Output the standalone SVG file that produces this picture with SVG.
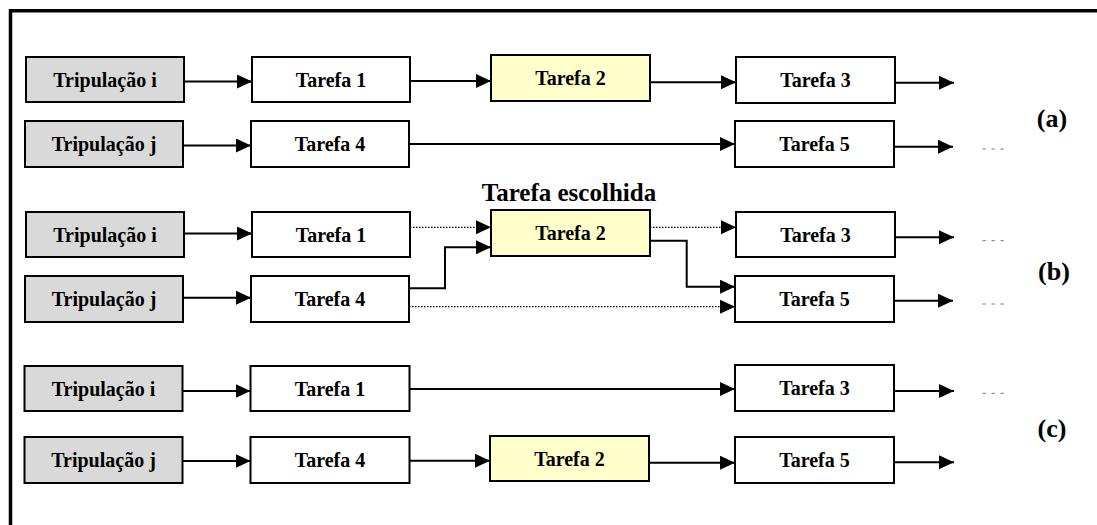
<svg xmlns="http://www.w3.org/2000/svg" width="1097" height="525" viewBox="0 0 1097 525">
  <style>
    .box { stroke: #000; stroke-width: 2; }
    .crew { fill: #d9d9d9; }
    .task { fill: #ffffff; }
    .chosen { fill: #ffffcc; }
    .lbl { font-family: "Liberation Serif", "Times New Roman", serif; font-weight: bold; font-size: 20px; text-anchor: middle; fill: #000; }
    .tag { font-family: "Liberation Serif", "Times New Roman", serif; font-weight: bold; font-size: 26px; text-anchor: middle; fill: #000; }
    .title { font-family: "Liberation Serif", "Times New Roman", serif; font-weight: bold; font-size: 25px; text-anchor: middle; fill: #000; }
    .solid { fill: none; stroke: #000; stroke-width: 2; marker-end: url(#arrow); }
    .dotted { fill: none; stroke: #000; stroke-width: 1.2; stroke-dasharray: 1.5 1.5; marker-end: url(#arrow); }
    .more { stroke: #777; stroke-width: 1; stroke-dasharray: 3.3 5.7; }
    .frame { stroke: #000; stroke-width: 3.5; fill: none; }
  </style>
  <defs>
    <marker id="arrow" markerUnits="userSpaceOnUse" markerWidth="16" markerHeight="16" refX="15" refY="7" orient="auto">
      <path d="M0,0 L15,7 L0,14 Z" fill="#000"/>
    </marker>
  </defs>

  <rect width="1097" height="525" fill="#fff"/>
  <!-- frame: top and left edges only -->
  <path class="frame" d="M10.5,525 V10.8 H1097"/>

  <!-- connectors -->
  <g id="connectors">
    <!-- (a) -->
    <line class="solid" x1="184" y1="81.5" x2="252" y2="81.5"/>
    <line class="solid" x1="410" y1="81" x2="491" y2="81"/>
    <line class="solid" x1="650" y1="82.3" x2="736" y2="82.3"/>
    <line class="solid" x1="895" y1="82.7" x2="954" y2="82.7"/>
    <line class="solid" x1="183" y1="145.5" x2="251" y2="145.5"/>
    <line class="solid" x1="409" y1="144" x2="735" y2="144"/>
    <line class="solid" x1="894" y1="146.7" x2="953" y2="146.7"/>
    <line class="more" x1="982.5" y1="149" x2="1008" y2="149"/>

    <!-- (b) -->
    <line class="solid" x1="184" y1="233.5" x2="252" y2="233.5"/>
    <line class="solid" x1="183" y1="297.7" x2="251" y2="297.7"/>
    <line class="dotted" x1="410" y1="227.3" x2="491" y2="227.3"/>
    <polyline class="solid" points="409,288.3 445,288.3 445,247.3 491,247.3"/>
    <line class="dotted" x1="409" y1="306.7" x2="735" y2="306.7"/>
    <line class="dotted" x1="650" y1="227.3" x2="736" y2="227.3"/>
    <polyline class="solid" points="650,240.7 686.7,240.7 686.7,286.7 735,286.7"/>
    <line class="solid" x1="895" y1="237.3" x2="954" y2="237.3"/>
    <line class="solid" x1="894" y1="300.7" x2="953" y2="300.7"/>
    <line class="more" x1="982.5" y1="240.7" x2="1008" y2="240.7"/>
    <line class="more" x1="982.5" y1="304" x2="1008" y2="304"/>

    <!-- (c) -->
    <line class="solid" x1="182.5" y1="391" x2="250.5" y2="391"/>
    <line class="solid" x1="409.5" y1="389" x2="735" y2="389"/>
    <line class="solid" x1="894" y1="391" x2="954" y2="391"/>
    <line class="more" x1="982.5" y1="393.3" x2="1008" y2="393.3"/>
    <line class="solid" x1="182.5" y1="461" x2="250.5" y2="461"/>
    <line class="solid" x1="409.5" y1="460.7" x2="490" y2="460.7"/>
    <line class="solid" x1="649" y1="462.7" x2="735" y2="462.7"/>
    <line class="solid" x1="894" y1="462.3" x2="954" y2="462.3"/>
  </g>

  <!-- scenario (a) -->
  <g id="a-crew-i"><rect class="box crew" x="26" y="57" width="158" height="45"/><text class="lbl" x="105" y="87">Tripulação i</text></g>
  <g id="a-crew-j"><rect class="box crew" x="25" y="121" width="158" height="46"/><text class="lbl" x="104" y="151">Tripulação j</text></g>
  <g id="a-task1"><rect class="box task" x="252" y="57" width="158" height="45"/><text class="lbl" x="331" y="87">Tarefa 1</text></g>
  <g id="a-task4"><rect class="box task" x="251" y="121" width="158" height="46"/><text class="lbl" x="330" y="151">Tarefa 4</text></g>
  <g id="a-task2"><rect class="box chosen" x="491" y="55" width="159" height="46"/><text class="lbl" x="570.5" y="85">Tarefa 2</text></g>
  <g id="a-task3"><rect class="box task" x="736" y="57" width="159" height="46"/><text class="lbl" x="815.5" y="87">Tarefa 3</text></g>
  <g id="a-task5"><rect class="box task" x="735" y="121" width="159" height="46"/><text class="lbl" x="814.5" y="151">Tarefa 5</text></g>
  <text class="tag" x="1052" y="127">(a)</text>

  <!-- scenario (b) -->
  <text class="title" x="569" y="201">Tarefa escolhida</text>
  <g id="b-crew-i"><rect class="box crew" x="26" y="212" width="158" height="45"/><text class="lbl" x="105" y="242">Tripulação i</text></g>
  <g id="b-crew-j"><rect class="box crew" x="25" y="276" width="158" height="46"/><text class="lbl" x="104" y="306">Tripulação j</text></g>
  <g id="b-task1"><rect class="box task" x="252" y="212" width="158" height="45"/><text class="lbl" x="331" y="242">Tarefa 1</text></g>
  <g id="b-task4"><rect class="box task" x="251" y="276" width="158" height="46"/><text class="lbl" x="330" y="306">Tarefa 4</text></g>
  <g id="b-task2"><rect class="box chosen" x="491" y="210" width="159" height="46"/><text class="lbl" x="570.5" y="240">Tarefa 2</text></g>
  <g id="b-task3"><rect class="box task" x="736" y="212" width="159" height="45"/><text class="lbl" x="815.5" y="242">Tarefa 3</text></g>
  <g id="b-task5"><rect class="box task" x="735" y="276" width="159" height="46"/><text class="lbl" x="814.5" y="306">Tarefa 5</text></g>
  <text class="tag" x="1054" y="280">(b)</text>

  <!-- scenario (c) -->
  <g id="c-crew-i"><rect class="box crew" x="24.5" y="366" width="158" height="45"/><text class="lbl" x="103.5" y="396">Tripulação i</text></g>
  <g id="c-crew-j"><rect class="box crew" x="24.5" y="437" width="158" height="46"/><text class="lbl" x="103.5" y="467">Tripulação j</text></g>
  <g id="c-task1"><rect class="box task" x="250.5" y="366" width="159" height="45"/><text class="lbl" x="330" y="396">Tarefa 1</text></g>
  <g id="c-task4"><rect class="box task" x="250.5" y="437" width="159" height="46"/><text class="lbl" x="330" y="467">Tarefa 4</text></g>
  <g id="c-task2"><rect class="box chosen" x="490" y="436" width="159" height="45"/><text class="lbl" x="569.5" y="466">Tarefa 2</text></g>
  <g id="c-task3"><rect class="box task" x="735" y="365" width="159" height="46"/><text class="lbl" x="814.5" y="395">Tarefa 3</text></g>
  <g id="c-task5"><rect class="box task" x="735" y="437" width="159" height="46"/><text class="lbl" x="814.5" y="467">Tarefa 5</text></g>
  <text class="tag" x="1052" y="437">(c)</text>
</svg>
